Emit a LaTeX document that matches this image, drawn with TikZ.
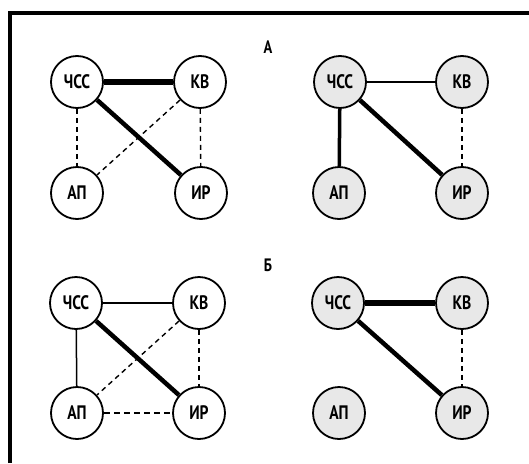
\documentclass[tikz,border=0pt]{standalone}
\usepackage{fontspec}
\newfontfamily\condfont[FakeStretch=0.8]{PT Sans}
\begin{document}
\begin{tikzpicture}[x=1pt,y=-1pt,
  vertex/.style={circle,draw=black,line width=1.8pt,minimum size=52pt,inner sep=0pt,
    font=\condfont\bfseries\fontsize{19.5}{19.5}\selectfont},
  plain/.style={vertex,fill=white},
  shaded/.style={vertex,fill=black!9},
  thin/.style={line width=1.5pt},
  heavy/.style={line width=6pt},
  medium/.style={line width=4.5pt},
  weak/.style={line width=1.4pt,dash pattern=on 5pt off 4pt},
  weakbold/.style={line width=2.4pt,dash pattern=on 6pt off 4pt},
  panel/.style={font=\condfont\bfseries\fontsize{18}{18}\selectfont}]
\useasboundingbox (0,0) rectangle (529,463);
\fill[white] (0,0) rectangle (529,463);
% open frame: left and top sides
\draw[line width=4pt] (10,463) -- (10,12.5) -- (529,12.5);

\node[panel] (labA) at (268,47) {А};
\node[panel] (labB) at (268,265) {Б};

% panel A, left
\node[plain] (a1) at (77,82) {ЧСС};
\node[plain] (a2) at (200,82) {КВ};
\node[plain] (a3) at (77,193) {АП};
\node[plain] (a4) at (201,193) {ИР};
\draw[heavy] (a1) -- (a2);
\draw[medium] (a1) -- (a4);
\draw[weak] (a1) -- (a3);
\draw[weak] (a2) -- (a4);
\draw[weak] (a2) -- (a3);

% panel A, right
\node[shaded] (b1) at (340,82) {ЧСС};
\node[shaded] (b2) at (462,82) {КВ};
\node[shaded] (b3) at (339,193) {АП};
\node[shaded] (b4) at (462,193) {ИР};
\draw[thin] (b1) -- (b2);
\draw[line width=3.5pt] (b1) -- (b3);
\draw[medium] (b1) -- (b4);
\draw[weak] (b2) -- (b4);

% panel B, left
\node[plain] (c1) at (76,303) {ЧСС};
\node[plain] (c2) at (199,303) {КВ};
\node[plain] (c3) at (77,413) {АП};
\node[plain] (c4) at (199,413) {ИР};
\draw[thin] (c1) -- (c2);
\draw[thin] (c1) -- (c3);
\draw[medium] (c1) -- (c4);
\draw[weak] (c2) -- (c3);
\draw[weak] (c2) -- (c4);
\draw[weakbold] (c3) -- (c4);

% panel B, right
\node[shaded] (d1) at (338,303) {ЧСС};
\node[shaded] (d2) at (462,303) {КВ};
\node[shaded] (d3) at (339,413) {АП};
\node[shaded] (d4) at (462,413) {ИР};
\draw[heavy] (d1) -- (d2);
\draw[medium] (d1) -- (d4);
\draw[weak] (d2) -- (d4);
\end{tikzpicture}
\end{document}
